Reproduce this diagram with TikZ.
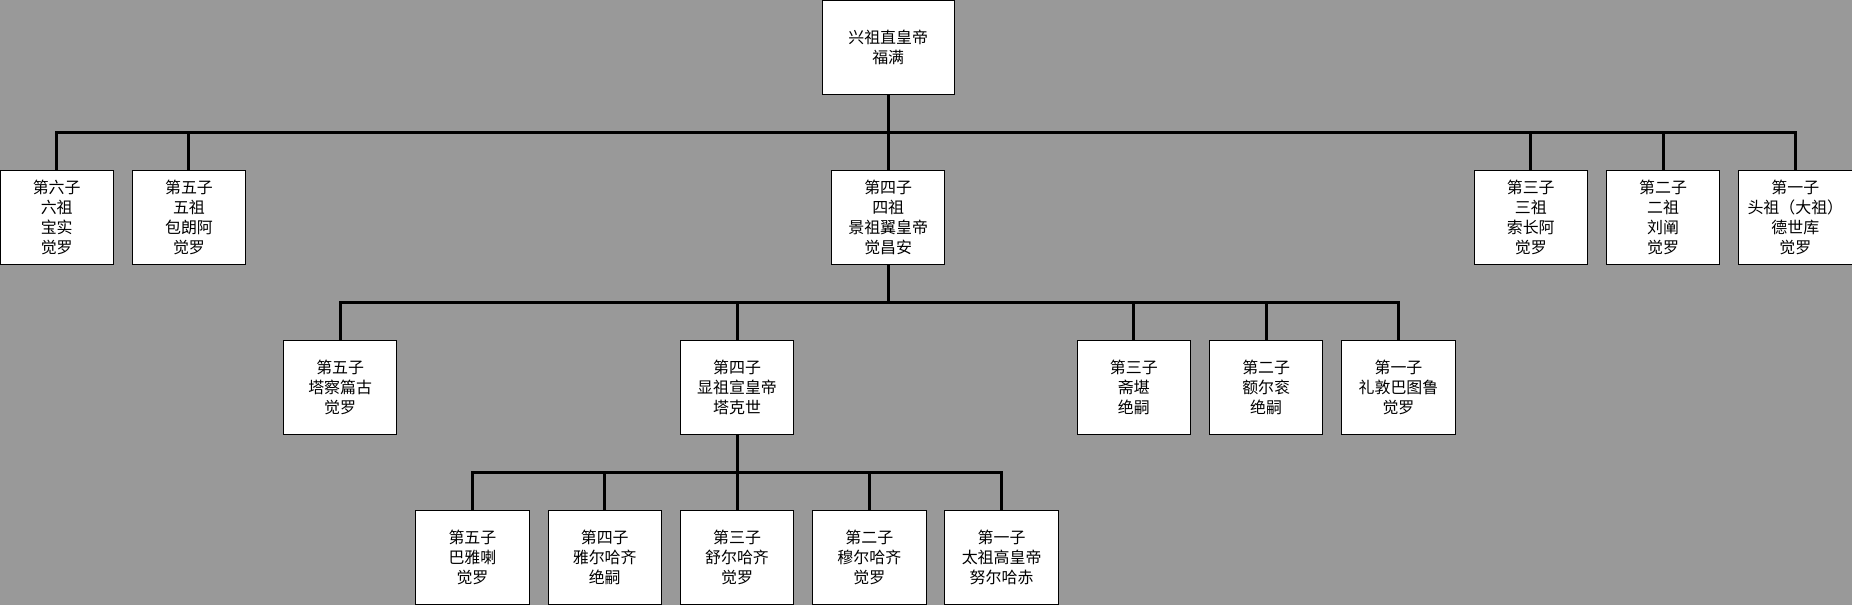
\documentclass[tikz,border=0pt]{standalone}
\usepackage{fontspec}
\setmainfont{Noto Sans CJK SC}
\definecolor{bggray}{RGB}{153,153,153}
\begin{document}
\begin{tikzpicture}[x=0.4cm,y=-0.4cm,
  person/.style={draw=black,line width=0.6pt,fill=white,minimum width=2.4cm,minimum height=2cm,inner sep=0pt,align=center,font=\fontsize{9.6}{12.2}\selectfont},
  conn/.style={draw=black,line width=1.8pt,line join=miter}]
\fill[bggray] (0,0) rectangle (98,32);
\useasboundingbox (0,0) rectangle (98,32);
\coordinate (b1) at (0,7);
\coordinate (b2) at (0,16);
\coordinate (b3) at (0,25);
% top
\node[person,minimum width=2.8cm] (top) at (47,2.5) {兴祖直皇帝\\福满};
% row 1
\node[person] (r1a) at (3,11.5) {第六子\\六祖\\宝实\\觉罗};
\node[person] (r1b) at (10,11.5) {第五子\\五祖\\包朗阿\\觉罗};
\node[person] (r1c) at (47,11.5) {第四子\\四祖\\景祖翼皇帝\\觉昌安};
\node[person] (r1d) at (81,11.5) {第三子\\三祖\\索长阿\\觉罗};
\node[person] (r1e) at (88,11.5) {第二子\\二祖\\刘阐\\觉罗};
\node[person] (r1f) at (95,11.5) {第一子\\头祖（大祖）\\德世库\\觉罗};
% row 2
\node[person] (r2a) at (18,20.5) {第五子\\塔察篇古\\觉罗};
\node[person] (r2b) at (39,20.5) {第四子\\显祖宣皇帝\\塔克世};
\node[person] (r2c) at (60,20.5) {第三子\\斋堪\\绝嗣};
\node[person] (r2d) at (67,20.5) {第二子\\额尔衮\\绝嗣};
\node[person] (r2e) at (74,20.5) {第一子\\礼敦巴图鲁\\觉罗};
% row 3
\node[person] (r3a) at (25,29.5) {第五子\\巴雅喇\\觉罗};
\node[person] (r3b) at (32,29.5) {第四子\\雅尔哈齐\\绝嗣};
\node[person] (r3c) at (39,29.5) {第三子\\舒尔哈齐\\觉罗};
\node[person] (r3d) at (46,29.5) {第二子\\穆尔哈齐\\觉罗};
\node[person] (r3e) at (53,29.5) {第一子\\太祖高皇帝\\努尔哈赤};
% connectors
\foreach \c in {r1a,r1b,r1c,r1d,r1e,r1f}
  \draw[conn] (top.south) |- (\c.north |- b1) -- (\c.north);
\foreach \c in {r2a,r2b,r2c,r2d,r2e}
  \draw[conn] (r1c.south) |- (\c.north |- b2) -- (\c.north);
\foreach \c in {r3a,r3b,r3c,r3d,r3e}
  \draw[conn] (r2b.south) |- (\c.north |- b3) -- (\c.north);
\end{tikzpicture}
\end{document}
